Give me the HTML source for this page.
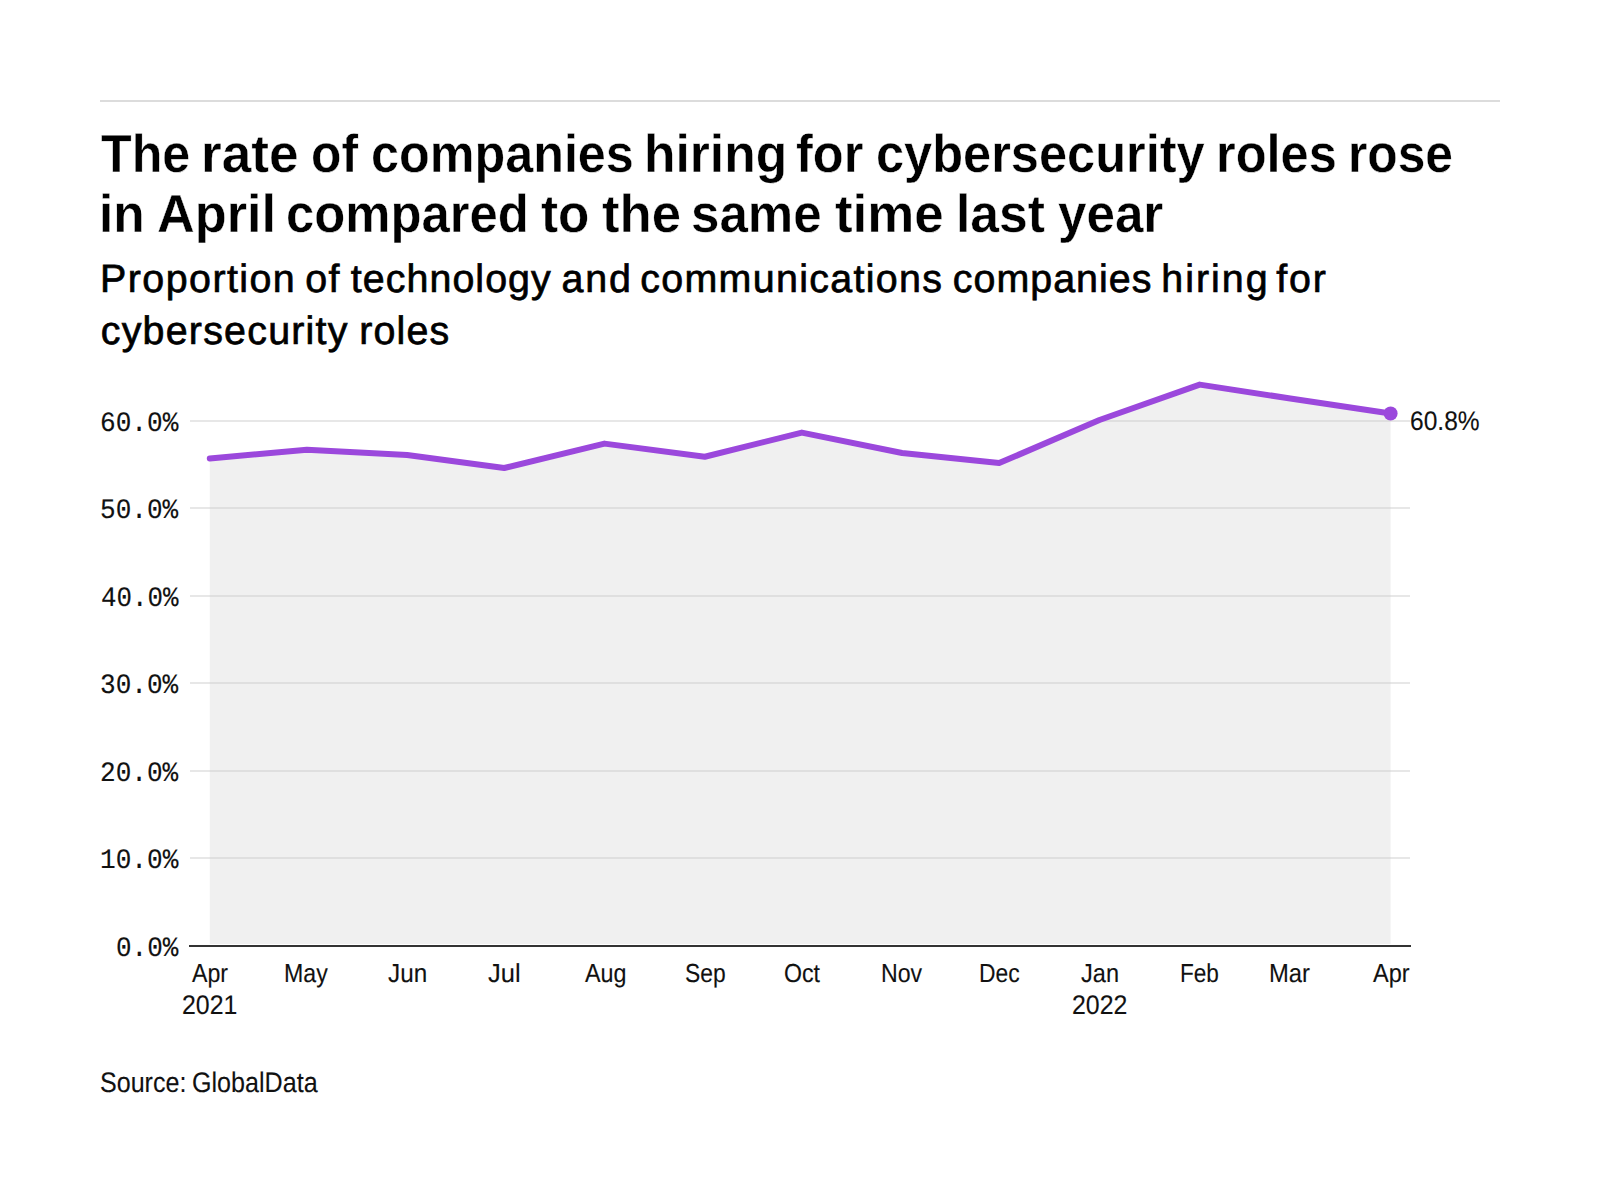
<!DOCTYPE html>
<html lang="en"><head><meta charset="utf-8">
<title>The rate of companies hiring for cybersecurity roles rose in April compared to the same time last year</title>
<style>
html,body{margin:0;padding:0;background:#fff;}
body{width:1600px;height:1200px;position:relative;overflow:hidden;font-family:"Liberation Sans",sans-serif;color:#000;}
h1,h2,p,ul,li{margin:0;padding:0;font-weight:normal;font-size:inherit;list-style:none;}
span{position:absolute;white-space:nowrap;line-height:1;font-weight:normal;transform-origin:0 50%;text-rendering:geometricPrecision;}
.title span{font-weight:bold;font-size:53.3px;color:#000;-webkit-text-stroke:0.4px #fff;}
.sub span{font-size:39.4px;color:#000;-webkit-text-stroke:0.7px #000;}
.yl span{font-family:"Liberation Mono",monospace;font-size:28px;color:#111;-webkit-text-stroke:0.15px #111;}
.xl span,.val span{font-size:26px;color:#111;-webkit-text-stroke:0.12px #111;}
.src span{font-size:28.2px;color:#111;-webkit-text-stroke:0.12px #111;}
.rule{position:absolute;left:100px;top:100px;width:1400px;height:2px;background:#dcdcdc;}
svg{position:absolute;left:0;top:0;}
</style></head><body>
<div class="rule"></div>
<h1 class="title"><span style="left:100.51px;top:128px;transform:scaleX(0.9412)">The</span> <span style="left:201.25px;top:128px;transform:scaleX(0.9973)">rate</span> <span style="left:311.13px;top:128px;transform:scaleX(0.9338)">of</span> <span style="left:370.61px;top:128px;transform:scaleX(0.9440)">companies</span> <span style="left:644.28px;top:128px;transform:scaleX(0.9669)">hiring</span> <span style="left:796.11px;top:128px;transform:scaleX(0.9470)">for</span> <span style="left:875.6px;top:128px;transform:scaleX(0.9482)">cybersecurity</span> <span style="left:1215.93px;top:128px;transform:scaleX(0.9478)">roles</span> <span style="left:1348.24px;top:128px;transform:scaleX(0.9329)">rose</span>
<span style="left:98.78px;top:188px;transform:scaleX(0.9652)">in</span> <span style="left:157px;top:188px;transform:scaleX(0.9806)">April</span> <span style="left:285.59px;top:188px;transform:scaleX(0.9533)">compared</span> <span style="left:541.22px;top:188px;transform:scaleX(0.9622)">to</span> <span style="left:601.69px;top:188px;transform:scaleX(0.9877)">the</span> <span style="left:691.32px;top:188px;transform:scaleX(0.9583)">same</span> <span style="left:835.44px;top:188px;transform:scaleX(0.9920)">time</span> <span style="left:956.26px;top:188px;transform:scaleX(0.9689)">last</span> <span style="left:1057.91px;top:188px;transform:scaleX(0.9595)">year</span></h1>
<h2 class="sub"><span style="left:100.12px;top:260px;letter-spacing:1.432px">Proportion</span> <span style="left:305.25px;top:260px;letter-spacing:1.405px">of</span> <span style="left:350.75px;top:260px;letter-spacing:1.056px">technology</span> <span style="left:561.5px;top:260px;letter-spacing:1.890px">and</span> <span style="left:640.25px;top:260px;letter-spacing:1.308px">communications</span> <span style="left:952.75px;top:260px;letter-spacing:1.026px">companies</span> <span style="left:1161.25px;top:260px;letter-spacing:2.011px">hiring</span> <span style="left:1276.25px;top:260px;letter-spacing:1.775px">for</span>
<span style="left:100.75px;top:312px;letter-spacing:1.221px">cybersecurity</span> <span style="left:359.25px;top:312px;letter-spacing:1.140px">roles</span></h2>
<svg width="1600" height="1200" viewBox="0 0 1600 1200" role="img" aria-label="Line chart">
<g stroke="#e7e7e7" stroke-width="2"><line x1="190" x2="1410" y1="858" y2="858"/><line x1="190" x2="1410" y1="771" y2="771"/><line x1="190" x2="1410" y1="683" y2="683"/><line x1="190" x2="1410" y1="596" y2="596"/><line x1="190" x2="1410" y1="508" y2="508"/><line x1="190" x2="1410" y1="421" y2="421"/></g>
<polygon points="209.8,944 209.8,458.4 306.85,449.75 407.14,455 504.19,468 604.48,443.6 704.77,456.75 801.82,432.6 902.1,453 999.16,463.1 1099.44,420 1199.73,384.6 1290.31,398.5 1390.6,413.5 1390.6,944" fill="#ccc" fill-opacity="0.3"/>
<line x1="189" x2="1411" y1="946" y2="946" stroke="#333" stroke-width="2"/>
<polyline points="209.8,458.4 306.85,449.75 407.14,455 504.19,468 604.48,443.6 704.77,456.75 801.82,432.6 902.1,453 999.16,463.1 1099.44,420 1199.73,384.6 1290.31,398.5 1390.6,413.5" fill="none" stroke="#9b48dc" stroke-width="6" stroke-linejoin="round" stroke-linecap="round"/>
<circle cx="1390.6" cy="413.5" r="7" fill="#9b48dc"/>
</svg>
<div class="yl"><span style="left:115.59px;top:936px;transform:scaleX(0.9277)">0.0%</span>
<span style="left:99.68px;top:848px;transform:scaleX(0.9323)">10.0%</span>
<span style="left:99.77px;top:761px;transform:scaleX(0.9312)">20.0%</span>
<span style="left:99.83px;top:673px;transform:scaleX(0.9305)">30.0%</span>
<span style="left:100.58px;top:586px;transform:scaleX(0.9216)">40.0%</span>
<span style="left:99.8px;top:498px;transform:scaleX(0.9309)">50.0%</span>
<span style="left:99.63px;top:411px;transform:scaleX(0.9328)">60.0%</span></div>
<div class="xl"><span style="left:192.25px;top:960px;transform:scaleX(0.8905)">Apr</span>
<span style="left:284.47px;top:960px;transform:scaleX(0.8904)">May</span>
<span style="left:387.9px;top:960px;transform:scaleX(0.9343)">Jun</span>
<span style="left:488.37px;top:960px;transform:scaleX(0.9806)">Jul</span>
<span style="left:584.6px;top:960px;transform:scaleX(0.8978)">Aug</span>
<span style="left:684.72px;top:960px;transform:scaleX(0.8781)">Sep</span>
<span style="left:783.51px;top:960px;transform:scaleX(0.8892)">Oct</span>
<span style="left:881.12px;top:960px;transform:scaleX(0.8892)">Nov</span>
<span style="left:978.84px;top:960px;transform:scaleX(0.8778)">Dec</span>
<span style="left:1080.67px;top:960px;transform:scaleX(0.9066)">Jan</span>
<span style="left:1180.16px;top:960px;transform:scaleX(0.8690)">Feb</span>
<span style="left:1269.42px;top:960px;transform:scaleX(0.9155)">Mar</span>
<span style="left:1372.75px;top:960px;transform:scaleX(0.9055)">Apr</span>
<span style="font-size:26.8px;left:182.17px;top:992px;transform:scaleX(0.9299)">2021</span>
<span style="font-size:26.8px;left:1071.97px;top:992px;transform:scaleX(0.9295)">2022</span></div>
<div class="val"><span style="font-size:26.8px;left:1410.08px;top:408px;transform:scaleX(0.9164)">60.8%</span></div>
<p class="src"><span style="left:100.01px;top:1068px;transform:scaleX(0.8894)">Source:</span> <span style="left:192.21px;top:1068px;transform:scaleX(0.8907)">GlobalData</span></p>
</body></html>
